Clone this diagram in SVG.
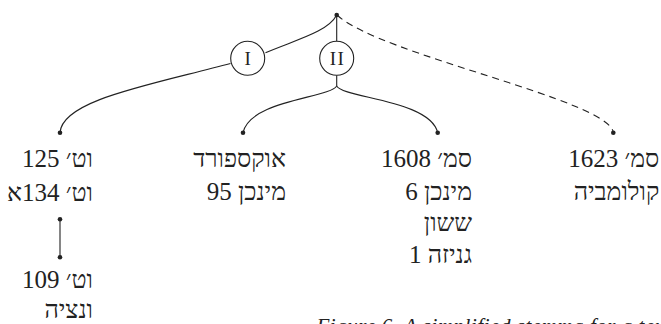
<svg xmlns="http://www.w3.org/2000/svg" width="661" height="324" viewBox="0 0 661 324">
  <style>
    .edge { fill: none; stroke: #222; stroke-width: 1.1; }
    .dashed { stroke-dasharray: 7 5; }
    .dot { fill: #222; }
    .ring { fill: #fff; stroke: #222; stroke-width: 1.1; }
    .num { font-family: "Liberation Serif", "DejaVu Serif", serif; font-size: 19px; fill: #222; text-anchor: middle; letter-spacing: 1.5px; }
    .he { font-family: "Liberation Serif", "DejaVu Serif", serif; font-size: 25px; fill: #222; direction: rtl; unicode-bidi: embed; text-anchor: start; }
    .cap { font-family: "Liberation Serif", serif; font-size: 21px; font-style: italic; fill: #222; }
  </style>

  <rect width="661" height="324" fill="#fff"/>

  <!-- connectors -->
  <g id="connectors">
    <path class="edge" d="M336.7,15 C328,32 295,40 265.5,52.7"/>
    <path class="edge" d="M230.5,63.5 C150,85 62,100 60,132.7"/>
    <path class="edge" d="M336.7,15 V41.3"/>
    <path class="edge" d="M336.7,75.3 V86"/>
    <path class="edge" d="M336.7,86 C330,98 250,100 243,132.7"/>
    <path class="edge" d="M336.7,86 C343,98 430,100 437.7,132.7"/>
    <path class="edge dashed" d="M337,15 C380,55 610,100 613.3,132.7"/>
    <path class="edge" d="M60,219.3 V257.3"/>
  </g>

  <!-- archetype -->
  <g id="root">
    <circle class="dot" cx="336.7" cy="15" r="2.3"/>
  </g>

  <!-- hyparchetypes -->
  <g id="hyp-I">
    <circle class="ring" cx="247.7" cy="58.3" r="17"/>
    <text class="num" x="248.4" y="64.8">I</text>
  </g>
  <g id="hyp-II">
    <circle class="ring" cx="336.7" cy="58.3" r="17"/>
    <text class="num" x="337.5" y="64.8">II</text>
  </g>

  <!-- witnesses -->
  <g id="vat125">
    <circle class="dot" cx="60" cy="132.7" r="2.3"/>
    <text class="he" x="93" y="166.7">וט׳ 125</text>
    <text class="he" x="93" y="200.7">וט׳ 134א</text>
  </g>
  <g id="vat109">
    <circle class="dot" cx="60" cy="219.3" r="2.3"/>
    <circle class="dot" cx="60" cy="257.3" r="2.3"/>
    <text class="he" x="93" y="287.7">וט׳ 109</text>
    <text class="he" x="93" y="318">ונציה</text>
  </g>
  <g id="oxford">
    <circle class="dot" cx="243" cy="132.7" r="2.3"/>
    <text class="he" x="286" y="166.7">אוקספורד</text>
    <text class="he" x="286" y="199.5">מינכן 95</text>
  </g>
  <g id="sam1608">
    <circle class="dot" cx="437.7" cy="132.7" r="2.3"/>
    <text class="he" x="472" y="166.7">סמ׳ 1608</text>
    <text class="he" x="472" y="199.5">מינכן 6</text>
    <text class="he" x="472" y="231">ששון</text>
    <text class="he" x="472" y="263">גניזה 1</text>
  </g>
  <g id="sam1623">
    <circle class="dot" cx="613.3" cy="132.7" r="2.3"/>
    <text class="he" x="659.3" y="166.7">סמ׳ 1623</text>
    <text class="he" x="659.3" y="199.5">קולומביה</text>
  </g>

  <text class="cap" x="316.5" y="333" textLength="354" lengthAdjust="spacing">Figure 6. A simplified stemma for a text</text>
</svg>
